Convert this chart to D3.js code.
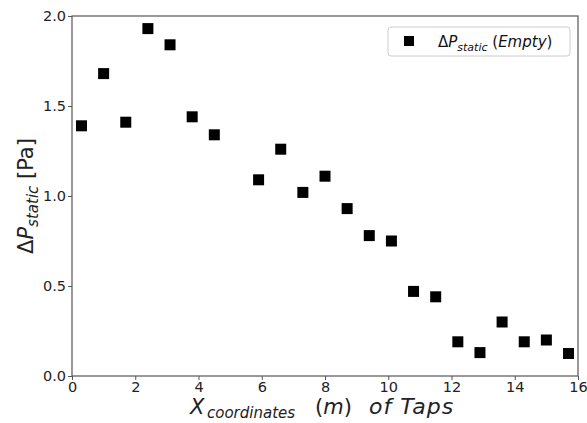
<!DOCTYPE html>
<html><head><meta charset="utf-8">
<script src="https://cdn.jsdelivr.net/npm/d3@7"></script>
<style>body{margin:0;background:#fff;} text{font-family:"DejaVu Sans",sans-serif;}</style>
</head><body>
<svg id="c" width="587" height="423"></svg>
<script>
const xTaps = [0.3,1.0,1.7,2.4,3.1,3.8,4.5,5.9,6.6,7.3,8.0,8.7,9.4,10.1,10.8,11.5,12.2,12.9,13.6,14.3,15.0,15.7];
const dpStatic = [1.39,1.68,1.41,1.93,1.84,1.44,1.34,1.09,1.26,1.02,1.11,0.93,0.78,0.75,0.47,0.44,0.19,0.13,0.30,0.19,0.20,0.125];
const xTicks = [0,2,4,6,8,10,12,14,16];
const yTicks = [0.0,0.5,1.0,1.5,2.0];

const svg = d3.select("#c");
const L=72,R=578,T=16,B=376;
const x = d3.scaleLinear().domain([0,16]).range([L,R]);
const y = d3.scaleLinear().domain([0,2]).range([B,T]);
const axCol="#555";

const gx = svg.append("g").attr("transform",`translate(0,${B})`)
  .call(d3.axisBottom(x).tickValues(xTicks).tickFormat(d3.format("d")).tickSize(4).tickPadding(2));
const gy = svg.append("g").attr("transform",`translate(${L},0)`)
  .call(d3.axisLeft(y).tickValues(yTicks).tickFormat(d3.format(".1f")).tickSize(4).tickPadding(2));
[gx,gy].forEach(g=>{
  g.select(".domain").remove();
  g.selectAll("line").attr("stroke",axCol);
  g.selectAll("text").attr("fill","#222").style("font-size","14.5px");
});
svg.append("rect").attr("x",L).attr("y",T).attr("width",R-L).attr("height",B-T)
  .attr("fill","none").attr("stroke",axCol).attr("stroke-width",1.2);

const s=11;
svg.append("g").selectAll("rect").data(xTaps).join("rect")
  .attr("x",(d)=>x(d)-s/2).attr("y",(d,i)=>y(dpStatic[i])-s/2)
  .attr("width",s).attr("height",s).attr("fill","#000");

// legend
svg.append("rect").attr("x",388).attr("y",27).attr("width",182).attr("height",29).attr("rx",3)
  .attr("fill","#fff").attr("stroke","#ccc");
svg.append("rect").attr("x",404).attr("y",36).attr("width",10).attr("height",10).attr("fill","#000");
const lt = svg.append("text").attr("x",438).attr("y",47).style("font-size","15px").attr("fill","#111");
lt.append("tspan").text("Δ");
lt.append("tspan").attr("font-style","italic").text("P");
lt.append("tspan").attr("font-style","italic").style("font-size","11px").attr("dy",4).text("static");
lt.append("tspan").attr("dy",-4).text(" (");
lt.append("tspan").attr("font-style","italic").text("Empty");
lt.append("tspan").text(")");

// x label
const xlY = 414;
const xl = svg.append("g").attr("fill","#222");
xl.append("text").attr("x",190).attr("y",xlY).attr("font-style","italic").style("font-size","21px").text("X");
xl.append("text").attr("x",207).attr("y",xlY+4).attr("font-style","italic").style("font-size","15px").text("coordinates");
const m = xl.append("text").attr("x",315).attr("y",xlY).style("font-size","21px");
m.append("tspan").text("(");
m.append("tspan").attr("font-style","italic").text("m");
m.append("tspan").text(")");
xl.append("text").attr("x",369).attr("y",xlY).attr("font-style","italic").style("font-size","22px")
  .style("letter-spacing","1px").text("of  Taps");

// y label
const yl = svg.append("text").attr("transform","translate(33,196) rotate(-90)").attr("text-anchor","middle")
  .style("font-size","21px").attr("fill","#222");
yl.append("tspan").text("Δ");
yl.append("tspan").attr("font-style","italic").text("P");
yl.append("tspan").attr("font-style","italic").style("font-size","15px").attr("dy",5).text("static");
yl.append("tspan").attr("dy",-5).text("  [Pa]");
</script>
</body></html>
